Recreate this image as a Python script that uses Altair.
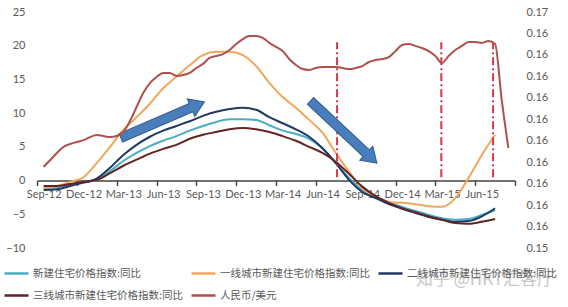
import json
import altair as alt
import pandas as pd

# Monthly index: 0 = Sep-12 ... 35 = Aug-15
quarter_labels = ["Sep-12", "Dec-12", "Mar-13", "Jun-13", "Sep-13", "Dec-13",
                  "Mar-14", "Jun-14", "Sep-14", "Dec-14", "Mar-15", "Jun-15"]

series_names = ["新建住宅价格指数:同比", "一线城市新建住宅价格指数:同比",
                "二线城市新建住宅价格指数:同比", "三线城市新建住宅价格指数:同比",
                "人民币/美元"]
series_colors = ["#4bacc6", "#f2a65a", "#1f3864", "#632523", "#b0504d"]

# Year-on-year change of new home prices, Sep-12 .. Jul-15 (%)
yoy_all = [-1.1, -1.0, -0.6, -0.3, 0.1, 1.4, 2.9, 4.1, 5.1, 5.9, 6.6, 7.4, 8.1, 8.7,
           9.1, 9.1, 9.0, 8.2, 7.4, 6.9, 6.2, 4.8, 2.6, 0.4, -1.4, -2.4, -3.2, -3.9,
           -4.5, -5.1, -5.6, -5.8, -5.7, -5.1, -4.4]
yoy_tier1 = [-1.1, -0.8, -0.2, 0.5, 2.6, 5.0, 7.5, 9.4, 11.4, 13.7, 15.4, 17.1, 18.6,
             19.1, 19.1, 18.6, 17.0, 14.5, 12.4, 10.8, 9.0, 7.1, 4.1, 1.3, -1.1, -2.4,
             -3.2, -3.3, -3.5, -3.8, -3.9, -2.6, 0.4, 3.8, 6.8]
yoy_tier2 = [-1.4, -1.3, -0.8, -0.3, 0.3, 1.9, 3.8, 5.3, 6.5, 7.4, 8.1, 8.8, 9.6, 10.2,
             10.6, 10.8, 10.5, 9.4, 8.5, 7.6, 6.5, 4.8, 2.6, 0.1, -1.7, -2.6, -3.5, -4.2,
             -4.8, -5.4, -5.8, -6.1, -6.0, -5.3, -4.1]
yoy_tier3 = [-0.8, -0.8, -0.5, -0.2, 0.1, 1.1, 2.2, 3.1, 4.0, 4.7, 5.3, 6.2, 6.8, 7.2,
             7.6, 7.8, 7.6, 7.2, 6.6, 5.9, 5.0, 4.1, 2.8, 1.0, -0.9, -2.3, -3.3, -4.1,
             -4.7, -5.3, -5.8, -6.3, -6.4, -6.1, -5.7]

# CNY/USD, half-month steps from Sep-12 to Aug-15
cny_usd = [0.15828, 0.15860, 0.15893, 0.15921, 0.15935, 0.15944, 0.15953, 0.15967,
           0.15977, 0.15972, 0.15967, 0.15972, 0.15991, 0.16042, 0.16107, 0.16172,
           0.16219, 0.16247, 0.16266, 0.16266, 0.16252, 0.16256, 0.16266, 0.16289,
           0.16308, 0.16336, 0.16345, 0.16354, 0.16373, 0.16401, 0.16424, 0.16438,
           0.16438, 0.16429, 0.16406, 0.16387, 0.16368, 0.16331, 0.16303, 0.16284,
           0.16280, 0.16289, 0.16294, 0.16294, 0.16294, 0.16289, 0.16284, 0.16289,
           0.16298, 0.16317, 0.16326, 0.16331, 0.16340, 0.16368, 0.16396, 0.16401,
           0.16392, 0.16382, 0.16368, 0.16345, 0.16312, 0.16345, 0.16373, 0.16392,
           0.16410, 0.16410, 0.16406, 0.16415, 0.16401, 0.16140, 0.15916]

# Event markers (month index) and trend arrows
event_months = [22.1, 29.95, 33.85]
event_low = [0.5, 0.5, 0.5]
event_high = [20.5, 20.5, 20.5]
arrow_months = [8.96, 22.6]
arrow_values = [9.0, 7.2]
arrow_angles = [336.8, 43.2]

left_ticks = [-10, -5, 0, 5, 10, 15, 20, 25]
right_ticks = [round(0.1545 + 0.001 * k, 4) for k in range(12)]
right_tick_labels = ["0.15"] + ["0.16"] * 10 + ["0.17"]
watermark = "知乎 @HKT汇客厅"

W, H = 478, 236
LABEL = dict(labelFont="Lato", labelFontSize=11, labelColor="#595959")

rows = []
for name, vals in zip(series_names[:4], [yoy_all, yoy_tier1, yoy_tier2, yoy_tier3]):
    for i, v in enumerate(vals):
        rows.append({"m": i, "v": v, "series": name, "order": i})
housing = pd.DataFrame(rows)
rmb = pd.DataFrame({"m": [0.5 * i for i in range(len(cny_usd))], "r": cny_usd,
                    "series": series_names[4]})
events = pd.DataFrame({"m": event_months, "v": event_low, "v2": event_high})
arrows = pd.DataFrame({"m": arrow_months, "v": arrow_values, "ang": arrow_angles})

zero_offset = -(H - H * 25 / 35)
x_axis = alt.Axis(
    values=[-0.5 + 3 * k for k in range(13)],
    labelExpr="datum.value < 35 ? " + json.dumps(quarter_labels)
              + "[round((datum.value + 0.5) / 3)] : ''",
    labelOffset=W / 36 / 2, offset=zero_offset, labelFlush=False, labelOverlap=False,
    grid=False, domainColor="#404040", domainWidth=1.4, tickColor="#404040",
    tickWidth=1.4, tickSize=5, labelPadding=3, title=None, **LABEL)
x_enc = alt.X("m:Q", scale=alt.Scale(domain=[-0.5, 35.5], nice=False, zero=False),
              axis=x_axis, title=None)

y_axis = alt.Axis(values=left_ticks, grid=False, domain=False, ticks=False,
                  labelPadding=12, labelOverlap=False, title=None, **LABEL)
y_scale = alt.Scale(domain=[-10, 25], nice=False, zero=False)

color = alt.Color("series:N", scale=alt.Scale(domain=series_names, range=series_colors),
                  legend=alt.Legend(title=None, direction="horizontal"), sort=series_names)

lines = alt.Chart(housing).mark_line(strokeWidth=2, interpolate="monotone").encode(
    x=x_enc, y=alt.Y("v:Q", scale=y_scale, axis=y_axis, title=None),
    color=color, order="order:Q", detail="series:N")

rules = alt.Chart(events).mark_rule(color="#cf3a48", strokeWidth=2,
                                    strokeDash=[8, 3, 2, 3]).encode(
    x=x_enc, y=alt.Y("v:Q", scale=y_scale, axis=y_axis, title=None), y2="v2:Q")

arrow_path = "M -1 -0.1 L 0.68 -0.1 L 0.68 -0.21 L 1 0 L 0.68 0.21 L 0.68 0.1 L -1 0.1 Z"
arrow_marks = alt.Chart(arrows).mark_point(
    shape=arrow_path, size=91 * 91, filled=True, fill="#4a7dbb", stroke="#2f5a8c",
    strokeWidth=1, opacity=1).encode(
    x=x_enc, y=alt.Y("v:Q", scale=y_scale, axis=y_axis, title=None),
    angle=alt.Angle("ang:Q", scale=None))

mark_text = alt.Chart(pd.DataFrame({"t": [watermark]})).mark_text(
    font="Noto Sans CJK SC", fontSize=17, color="#bdbdbd", opacity=0.85,
    align="center", baseline="middle").encode(
    text="t:N", x=alt.value(448), y=alt.value(268))

left = alt.layer(lines, rules, arrow_marks, mark_text)

rmb_line = alt.Chart(rmb).mark_line(strokeWidth=2, interpolate="monotone").encode(
    x=x_enc,
    y=alt.Y("r:Q", scale=alt.Scale(domain=[0.1545, 0.1655], nice=False, zero=False),
            axis=alt.Axis(orient="right", values=right_ticks,
                          labelExpr=json.dumps(right_tick_labels)
                          + "[round((datum.value - 0.1545) / 0.001)]",
                          grid=False, domain=False, ticks=False, labelPadding=11,
                          labelOverlap=False, title=None, **LABEL),
            title=None),
    color=color)

chart = alt.layer(left, rmb_line).resolve_scale(y="independent").properties(
    width=W, height=H,
    autosize=alt.AutoSizeParams(type="none"),
    padding={"left": 37, "top": 12, "right": 53, "bottom": 59},
).configure_view(stroke=None).configure_legend(
    orient="none", legendX=-34, legendY=248, columns=3, padding=0,
    direction="horizontal",
    symbolType="stroke", symbolSize=576, symbolStrokeWidth=2.5,
    labelFont="Noto Sans CJK SC", labelFontSize=10.5, labelColor="#595959",
    labelOffset=3, labelLimit=300, columnPadding=3, rowPadding=3,
)

chart.save("out.html", embed_options={"renderer": "svg", "actions": False})
